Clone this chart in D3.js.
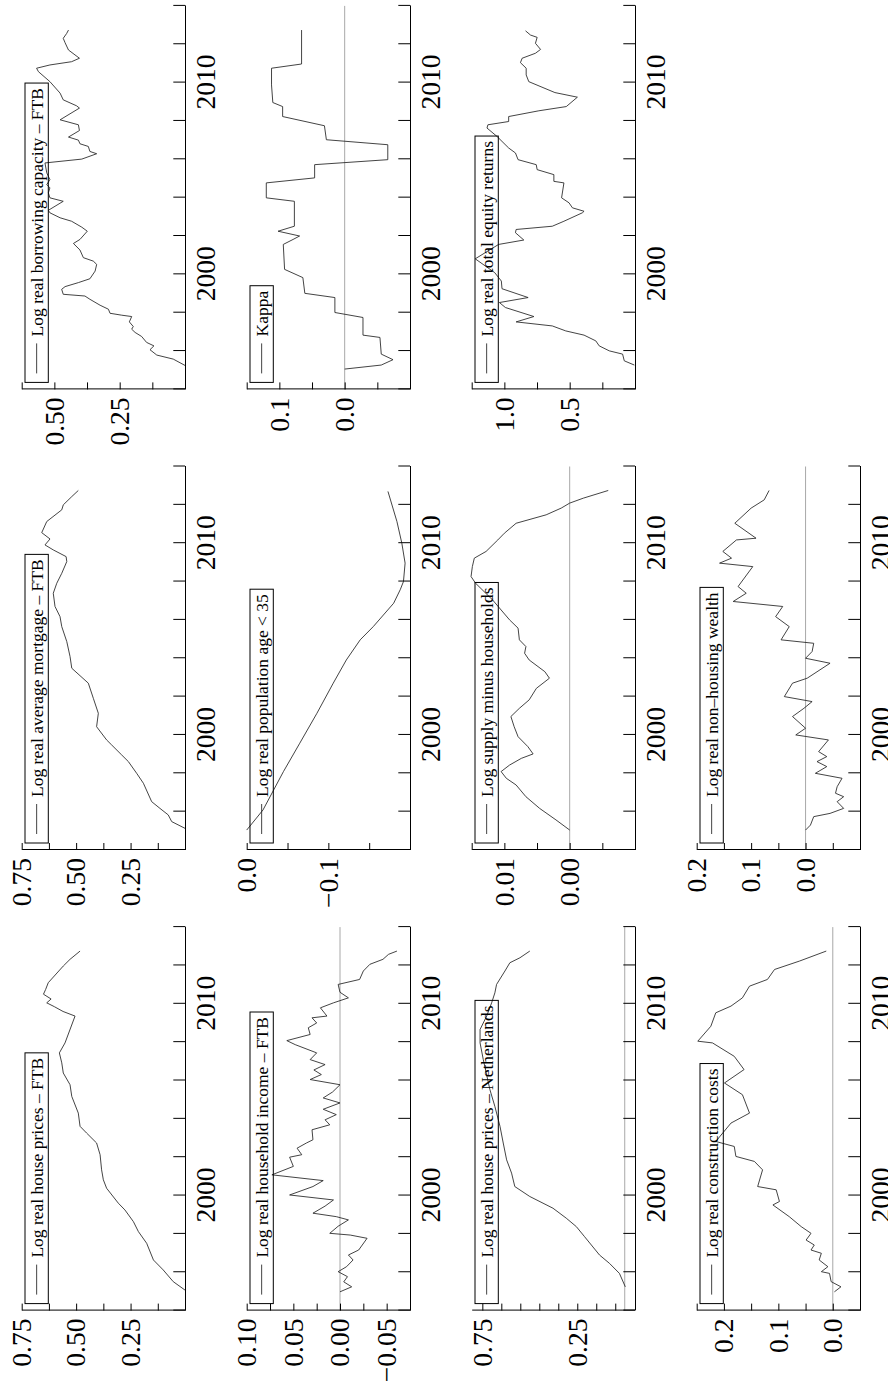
<!DOCTYPE html>
<html>
<head>
<meta charset="utf-8">
<script src="https://cdn.jsdelivr.net/npm/d3@7"></script>
<style>
  html, body { margin: 0; padding: 0; background: #fff; }
  svg { display: block; }
</style>
</head>
<body>
<div id="chart"></div>
<script>
// ---- time axis (shared by every panel) ----
const timeTicks  = [1994, 1996, 1998, 2000, 2002, 2004, 2006, 2008, 2010, 2012, 2014];
const timeLabels = ["", "", "", "2000", "", "", "", "", "2010", "", ""];

// ---- series: [year, value] ----
const houseFTB = [[1995.07,0],[1995.51,0.054],[1996.12,0.10],[1996.64,0.145],[1997.51,0.176],[1998.12,0.214],[1998.64,0.237],[1999.25,0.276],[1999.60,0.306],[2000.38,0.36],[2000.82,0.375],[2001.34,0.383],[2002.13,0.39],[2002.74,0.406],[2003.26,0.452],[2003.61,0.482],[2004.30,0.49],[2005.17,0.52],[2005.78,0.528],[2006.39,0.559],[2006.92,0.566],[2007.44,0.577],[2007.96,0.551],[2009.36,0.505],[2009.60,0.56],[2009.85,0.60],[2010.05,0.635],[2010.25,0.615],[2010.50,0.65],[2010.75,0.64],[2011.10,0.628],[2011.97,0.559],[2012.32,0.528],[2012.75,0.482]];

const mortgageFTB = [[1995.13,0],[1995.48,0.061],[1995.83,0.077],[1996.17,0.115],[1996.52,0.153],[1997.48,0.191],[1998.0,0.222],[1998.61,0.26],[1998.96,0.291],[1999.48,0.337],[1999.74,0.36],[2000.43,0.406],[2001.13,0.398],[2001.91,0.421],[2002.70,0.444],[2003.48,0.52],[2004.09,0.528],[2004.87,0.543],[2005.65,0.566],[2006.17,0.574],[2006.70,0.597],[2007.39,0.605],[2007.91,0.589],[2008.43,0.566],[2009.04,0.543],[2009.30,0.546],[2009.65,0.605],[2009.91,0.643],[2010.22,0.62],[2010.55,0.658],[2011.13,0.635],[2011.74,0.566],[2012.0,0.559],[2012.43,0.52],[2012.75,0.49]];

const borrowingFTB = [[1995.25,0],[1995.58,0.045],[1995.79,0.108],[1996.07,0.134],[1996.27,0.119],[1996.45,0.147],[1996.76,0.166],[1996.97,0.191],[1997.14,0.204],[1997.28,0.198],[1997.52,0.213],[1997.80,0.204],[1997.87,0.242],[1997.97,0.287],[1998.18,0.293],[1998.39,0.325],[1998.70,0.364],[1998.87,0.383],[1998.96,0.466],[1999.22,0.472],[1999.36,0.459],[1999.57,0.408],[1999.77,0.364],[2000.17,0.344],[2000.52,0.338],[2000.69,0.351],[2000.87,0.389],[2001.27,0.402],[2001.61,0.427],[2001.82,0.402],[2002.25,0.374],[2002.46,0.395],[2002.77,0.434],[2002.95,0.478],[2003.21,0.517],[2003.34,0.523],[2003.81,0.466],[2003.99,0.517],[2004.25,0.523],[2004.51,0.517],[2004.68,0.529],[2004.94,0.517],[2005.29,0.529],[2005.81,0.536],[2006.01,0.395],[2006.29,0.338],[2006.41,0.364],[2006.67,0.370],[2006.81,0.402],[2007.00,0.408],[2007.16,0.446],[2007.50,0.404],[2007.80,0.408],[2008.06,0.478],[2008.67,0.404],[2008.79,0.415],[2009.10,0.466],[2009.45,0.478],[2010.05,0.517],[2010.57,0.561],[2010.75,0.568],[2010.92,0.517],[2011.09,0.434],[2011.27,0.404],[2011.70,0.446],[2012.08,0.459],[2012.31,0.466],[2012.56,0.453],[2012.74,0.446]];

const incomeFTB = [[1994.98,0],[1995.24,-0.0125],[1995.50,-0.004],[1995.77,-0.008],[1996.03,0.002],[1996.29,-0.007],[1996.64,-0.014],[1996.90,-0.009],[1997.16,-0.02],[1997.77,-0.029],[1997.94,-0.011],[1998.03,0.011],[1998.40,0.002],[1998.73,-0.009],[1998.90,0.004],[1999.08,0.029],[1999.45,0.016],[1999.77,0.007],[2000.03,0.054],[2000.47,0.029],[2000.78,0.018],[2001.08,0.073],[2001.52,0.05],[2002.0,0.054],[2002.13,0.041],[2002.47,0.046],[2002.74,0.036],[2002.91,0.029],[2003.43,0.03],[2003.69,0.011],[2003.95,0.016],[2004.22,0.004],[2004.50,0.018],[2004.83,0],[2005.09,0.018],[2005.40,0.008],[2005.78,0],[2006.05,0.032],[2006.31,0.02],[2006.55,0.028],[2006.83,0.016],[2007.09,0.032],[2007.44,0.025],[2007.87,0.048],[2008.08,0.057],[2008.40,0.032],[2008.75,0.034],[2009.0,0.025],[2009.27,0.03],[2009.36,0.014],[2009.79,0.021],[2010.05,0.007],[2010.31,-0.009],[2010.60,0.0],[2011.01,0.002],[2011.27,-0.021],[2011.71,-0.025],[2012.06,-0.032],[2012.32,-0.046],[2012.58,-0.052],[2012.75,-0.061]];

const population = [[1995.04,0],[1996.09,-0.020],[1998.09,-0.045],[1999.57,-0.065],[2001.13,-0.086],[2002.70,-0.106],[2003.91,-0.122],[2004.96,-0.139],[2005.65,-0.155],[2006.87,-0.18],[2007.57,-0.188],[2008.0,-0.192],[2008.96,-0.194],[2010.0,-0.190],[2011.13,-0.184],[2012.70,-0.173]];

const kappa = [[1995.06,0],[1995.27,-0.056],[1995.55,-0.074],[1995.84,-0.056],[1996.71,-0.054],[1996.83,-0.028],[1997.75,-0.028],[1998.01,0.015],[1998.79,0.015],[1999.01,0.061],[1999.83,0.064],[2000.26,0.092],[2001.56,0.094],[2001.82,0.079],[2002.0,0.069],[2002.25,0.102],[2002.51,0.077],[2003.81,0.077],[2003.99,0.120],[2004.77,0.120],[2005.03,0.046],[2005.72,0.046],[2005.98,-0.066],[2006.76,-0.066],[2007.02,0.028],[2007.75,0.031],[2008.23,0.095],[2008.75,0.095],[2008.96,0.110],[2009.88,0.112],[2010.75,0.112],[2010.97,0.066],[2012.74,0.066]];

const houseNL = [[1995.24,-0.003],[1995.94,0.028],[1996.46,0.08],[1996.90,0.133],[1997.86,0.212],[1998.38,0.255],[1998.82,0.308],[1999.34,0.378],[1999.95,0.5],[2000.47,0.579],[2001.17,0.596],[2001.86,0.622],[2002.74,0.64],[2003.61,0.657],[2004.65,0.684],[2005.52,0.71],[2007.09,0.745],[2007.96,0.762],[2008.66,0.762],[2009.36,0.727],[2010.05,0.701],[2010.57,0.684],[2011.01,0.675],[2011.71,0.631],[2012.14,0.605],[2012.40,0.552],[2012.75,0.5]];

const supplyMinusHh = [[1995.04,0],[1995.57,0.0021],[1996.17,0.0046],[1996.78,0.0067],[1997.39,0.0082],[1997.74,0.0097],[1998.09,0.0105],[1998.43,0.0092],[1998.78,0.0074],[1999.01,0.0056],[1999.39,0.0064],[1999.91,0.0079],[2000.43,0.0085],[2000.96,0.009],[2001.39,0.0077],[2001.83,0.0062],[2002.43,0.0051],[2002.96,0.0031],[2003.30,0.0038],[2003.91,0.0062],[2004.26,0.0069],[2004.61,0.0067],[2004.96,0.0077],[2005.57,0.0079],[2006.0,0.0092],[2007.04,0.0118],[2007.91,0.0144],[2008.26,0.0151],[2008.78,0.0149],[2009.22,0.0146],[2009.57,0.0128],[2010.17,0.011],[2010.52,0.010],[2011.04,0.0082],[2011.48,0.0036],[2011.83,0.0013],[2012.09,0],[2012.35,-0.0021],[2012.75,-0.0059]];

const equityReturns = [[1995.27,0.005],[1995.49,0.082],[1995.84,0.095],[1996.01,0.197],[1996.27,0.274],[1996.53,0.30],[1996.83,0.39],[1997.05,0.53],[1997.31,0.633],[1997.52,0.91],[1997.80,0.774],[1998.27,0.992],[1998.53,1.038],[1998.79,0.818],[1999.25,1.018],[1999.65,1.023],[2000.09,1.074],[2000.81,1.223],[2001.56,1.044],[2001.79,0.851],[2002.17,0.915],[2002.34,0.91],[2002.51,0.633],[2002.77,0.544],[2003.21,0.403],[2003.29,0.39],[2003.47,0.479],[2003.73,0.505],[2003.99,0.562],[2004.77,0.544],[2004.85,0.621],[2005.20,0.621],[2005.46,0.749],[2005.72,0.756],[2005.98,0.895],[2006.33,0.915],[2006.59,0.967],[2007.19,1.056],[2007.63,1.133],[2007.80,1.126],[2007.97,0.967],[2008.23,0.967],[2008.53,0.736],[2008.75,0.526],[2009.24,0.441],[2009.48,0.613],[2010.05,0.813],[2010.40,0.833],[2010.75,0.833],[2011.04,0.877],[2011.27,0.864],[2011.53,0.762],[2011.73,0.723],[2012.05,0.762],[2012.36,0.749],[2012.48,0.80],[2012.70,0.838]];

const constructionCosts = [[1994.98,-0.003],[1995.24,-0.015],[1995.51,0.003],[1995.94,0.006],[1996.03,0.021],[1996.29,0.009],[1996.64,0.025],[1996.99,0.021],[1997.16,0.04],[1997.42,0.034],[1997.68,0.049],[1998.03,0.04],[1998.38,0.058],[1998.90,0.08],[1999.51,0.11],[1999.69,0.098],[2000.30,0.104],[2000.47,0.138],[2001.34,0.129],[2001.78,0.144],[2002.04,0.178],[2002.56,0.181],[2002.82,0.215],[2003.78,0.187],[2004.30,0.153],[2005.26,0.166],[2005.87,0.199],[2006.57,0.163],[2007.26,0.181],[2007.96,0.221],[2008.05,0.248],[2008.83,0.224],[2009.53,0.215],[2009.88,0.187],[2010.31,0.166],[2010.92,0.153],[2011.27,0.12],[2011.79,0.107],[2012.23,0.061],[2012.75,0.012]];

const nonHousingWealth = [[1995.04,0],[1995.30,-0.009],[1995.74,-0.015],[1995.91,-0.045],[1996.17,-0.07],[1996.52,-0.058],[1996.78,-0.07],[1996.96,-0.055],[1997.30,-0.058],[1997.74,-0.067],[1998.0,-0.018],[1998.35,-0.039],[1998.61,-0.021],[1998.87,-0.039],[1999.13,-0.024],[1999.74,-0.042],[2000.0,0.018],[2000.35,0],[2000.96,0.024],[2001.39,0.003],[2001.74,-0.012],[2002.0,0.039],[2002.70,0.024],[2002.96,-0.003],[2003.74,-0.045],[2004.0,0],[2004.35,-0.012],[2004.78,-0.015],[2004.96,0.045],[2005.65,0.03],[2006.17,0.055],[2006.70,0.042],[2006.96,0.133],[2007.39,0.109],[2007.74,0.124],[2008.78,0.097],[2008.96,0.158],[2009.22,0.136],[2009.57,0.152],[2010.17,0.127],[2010.26,0.091],[2011.04,0.13],[2011.83,0.10],[2012.26,0.076],[2012.75,0.067]];

// ---- value-axis ticks and labels per panel ----
const houseFTBTicks = [0, 0.125, 0.25, 0.375, 0.5, 0.625, 0.75];
const houseFTBLabels = ["", "", "0.25", "", "0.50", "", "0.75"];
const mortgageTicks = [0, 0.125, 0.25, 0.375, 0.5, 0.625, 0.75];
const mortgageLabels = ["", "", "0.25", "", "0.50", "", "0.75"];
const borrowingTicks = [0, 0.125, 0.25, 0.375, 0.5, 0.625];
const borrowingLabels = ["", "", "0.25", "", "0.50", ""];
const incomeTicks = [-0.075, -0.05, -0.025, 0, 0.025, 0.05, 0.075, 0.1];
const incomeLabels = ["", "\u22120.05", "", "0.00", "", "0.05", "", "0.10"];
const populationTicks = [-0.2, -0.15, -0.1, -0.05, 0];
const populationLabels = ["", "", "\u22120.1", "", "0.0"];
const kappaTicks = [-0.1, -0.05, 0, 0.05, 0.1, 0.15];
const kappaLabels = ["", "", "0.0", "", "0.1", ""];
const houseNLTicks = [0.05, 0.15, 0.25, 0.35, 0.45, 0.55, 0.65, 0.75];
const houseNLLabels = ["", "", "0.25", "", "", "", "", "0.75"];
const supplyTicks = [-0.01, -0.005, 0, 0.005, 0.01, 0.015];
const supplyLabels = ["", "", "0.00", "", "0.01", ""];
const equityTicks = [0, 0.25, 0.5, 0.75, 1.0, 1.25];
const equityLabels = ["", "", "0.5", "", "1.0", ""];
const constructionTicks = [-0.05, 0, 0.05, 0.1, 0.15, 0.2, 0.25];
const constructionLabels = ["", "0.0", "", "0.1", "", "0.2", ""];
const nonHousingTicks = [-0.1, -0.05, 0, 0.05, 0.1, 0.15, 0.2];
const nonHousingLabels = ["", "", "0.0", "", "0.1", "", "0.2"];

// ---- layout (drawn landscape, then turned a quarter turn) ----
const figW = 1384, figH = 888;
const colLeft = [73.4, 534.0, 994.6];
const rowTop = [21.7, 246.7, 471.7, 696.7];
const plotW = 383.5, plotH = 163.3;
const serif = "'Liberation Serif', 'DejaVu Serif', 'Times New Roman', serif";

const panels = [
  { row: 0, col: 0, name: "Log real house prices \u2013 FTB", data: houseFTB, domain: [0, 0.75], ticks: houseFTBTicks, labels: houseFTBLabels, zero: false },
  { row: 0, col: 1, name: "Log real average mortgage \u2013 FTB", data: mortgageFTB, domain: [0, 0.75], ticks: mortgageTicks, labels: mortgageLabels, zero: false },
  { row: 0, col: 2, name: "Log real borrowing capacity \u2013 FTB", data: borrowingFTB, domain: [0, 0.625], ticks: borrowingTicks, labels: borrowingLabels, zero: false },
  { row: 1, col: 0, name: "Log real household income \u2013 FTB", data: incomeFTB, domain: [-0.075, 0.1], ticks: incomeTicks, labels: incomeLabels, zero: true },
  { row: 1, col: 1, name: "Log real population age < 35", data: population, domain: [-0.2, 0], ticks: populationTicks, labels: populationLabels, zero: false },
  { row: 1, col: 2, name: "Kappa", data: kappa, domain: [-0.1, 0.15], ticks: kappaTicks, labels: kappaLabels, zero: true },
  { row: 2, col: 0, name: "Log real house prices \u2013 Netherlands", data: houseNL, domain: [-0.054, 0.806], ticks: houseNLTicks, labels: houseNLLabels, zero: true },
  { row: 2, col: 1, name: "Log supply minus households", data: supplyMinusHh, domain: [-0.01, 0.015], ticks: supplyTicks, labels: supplyLabels, zero: true },
  { row: 2, col: 2, name: "Log real total equity returns", data: equityReturns, domain: [0, 1.25], ticks: equityTicks, labels: equityLabels, zero: false },
  { row: 3, col: 0, name: "Log real construction costs", data: constructionCosts, domain: [-0.05, 0.25], ticks: constructionTicks, labels: constructionLabels, zero: true },
  { row: 3, col: 1, name: "Log real non\u2013housing wealth", data: nonHousingWealth, domain: [-0.1, 0.2], ticks: nonHousingTicks, labels: nonHousingLabels, zero: true }
];

const svg = d3.select("#chart").append("svg")
  .attr("width", figH)
  .attr("height", figW)
  .style("background", "#fff");

// landscape figure rotated counter-clockwise onto the portrait page
const fig = svg.append("g")
  .attr("transform", "translate(0," + figW + ") rotate(-90)");

const x = d3.scaleLinear().domain([1994, 2014]).range([0, plotW]);

panels.forEach(p => {
  const g = fig.append("g")
    .attr("transform", "translate(" + colLeft[p.col] + "," + rowTop[p.row] + ")");

  const y = d3.scaleLinear().domain(p.domain).range([plotH, 0]);

  if (p.zero) {
    g.append("line")
      .attr("x1", 0).attr("x2", plotW)
      .attr("y1", y(0)).attr("y2", y(0))
      .attr("stroke", "#a8a8a8")
      .attr("stroke-width", 1);
  }

  g.append("path")
    .datum(p.data)
    .attr("fill", "none")
    .attr("stroke", "#222")
    .attr("stroke-width", 0.85)
    .attr("stroke-linejoin", "round")
    .attr("d", d3.line().x(d => x(d[0])).y(d => y(d[1])));

  const xAxis = g.append("g")
    .attr("transform", "translate(0," + plotH + ")")
    .call(d3.axisBottom(x)
      .tickValues(timeTicks)
      .tickFormat((d, i) => timeLabels[i])
      .tickSizeInner(-11.7)
      .tickSizeOuter(0)
      .tickPadding(10));

  const yAxis = g.append("g")
    .call(d3.axisLeft(y)
      .tickValues(p.ticks)
      .tickFormat((d, i) => p.labels[i])
      .tickSizeInner(-7)
      .tickSizeOuter(0)
      .tickPadding(8));

  [xAxis, yAxis].forEach(a => {
    a.attr("font-family", serif).attr("font-size", 27.5);
    a.selectAll("text").attr("fill", "#000");
    a.selectAll("line, path").attr("stroke", "#000").attr("stroke-width", 1);
  });

  // legend, top left of the plot region, no fill
  const lg = g.append("g").attr("transform", "translate(7,3.3)");
  const txt = lg.append("text")
    .attr("x", 46)
    .attr("y", 11.65)
    .attr("dy", "0.35em")
    .attr("font-family", serif)
    .attr("font-size", 17.5)
    .attr("fill", "#000")
    .text(p.name);
  const tw = txt.node().getComputedTextLength();
  lg.append("rect")
    .attr("width", tw + 51)
    .attr("height", 23.3)
    .attr("fill", "none")
    .attr("stroke", "#000")
    .attr("stroke-width", 1);
  lg.append("line")
    .attr("x1", 9).attr("x2", 39)
    .attr("y1", 11.65).attr("y2", 11.65)
    .attr("stroke", "#222")
    .attr("stroke-width", 0.85);
});
</script>
</body>
</html>
